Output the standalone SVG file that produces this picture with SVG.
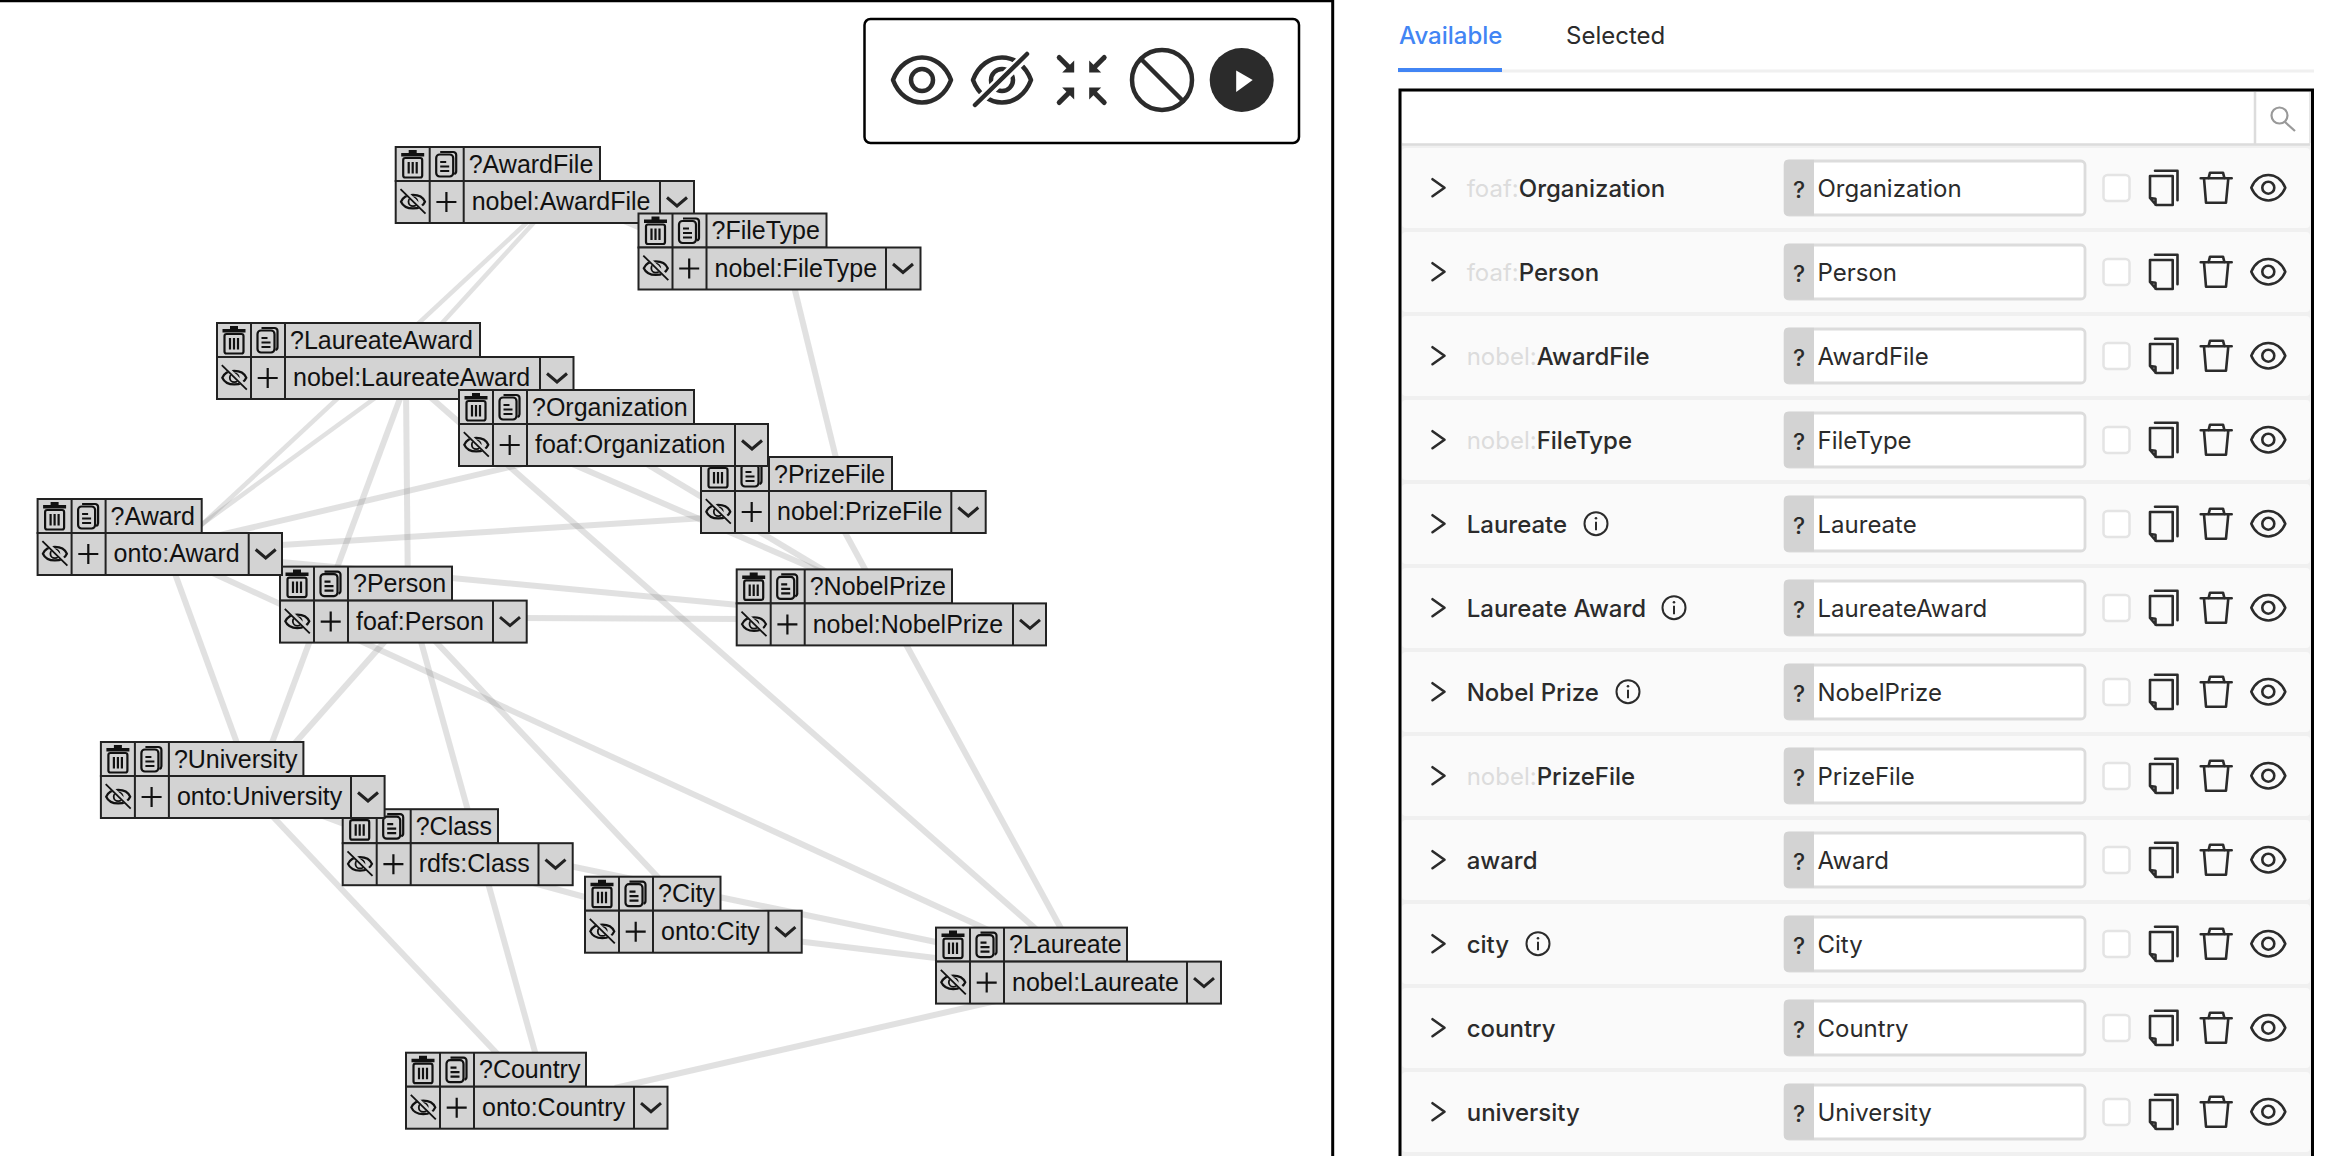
<svg xmlns="http://www.w3.org/2000/svg" width="2340" height="1156" viewBox="0 0 2340 1156">
<style>
text{font-family:"Liberation Sans",Arial,sans-serif}
.b{fill:#d3d3d3;stroke:#222;stroke-width:2}
.s{fill:none;stroke:#222;stroke-width:2}
.k{fill:none;stroke:#111;stroke-width:2.200}
.t{font-size:25px;fill:#111}
#edges line{stroke:#808080;stroke-opacity:.24;stroke-width:6}
#edges line.n{stroke-width:4.500}
.tb{fill:none;stroke:#2b2b2b;stroke-width:4.500;stroke-linecap:round;stroke-linejoin:round}
.ri{fill:none;stroke:#2b2b2b;stroke-width:2.600;stroke-linejoin:round;stroke-linecap:round}
.lb,.in,.q,.tab{font-family:Inter,"Noto Sans",sans-serif}
.lb{font-size:24px;font-weight:500;fill:#2b2b2b}
.lb tspan{font-weight:400;fill:#dcdcdc}
.in{font-size:24px;fill:#2b2b2b}
.q{font-size:23px;font-weight:500;fill:#2b2b2b;text-anchor:middle}
.tab{font-size:24px;fill:#2b2b2b}
</style>
<defs>
<g id="cells">
<path class="s" d="M34 0V76M68 0V76"/>
<path d="M5.500 6h23v3.500H5.500zM13 3h8v3.500h-8z" fill="#111"/>
<rect class="k" x="7.500" y="11" width="19" height="19.500" rx="2"/>
<path class="k" d="M13 15V26.500M17 15V26.500M21 15V26.500"/>
<rect class="k" x="40.500" y="7.500" width="17" height="22" rx="3.500" stroke-width="1.800"/>
<path class="k" stroke-width="1.800" d="M44.500 5H57.500a3 3 0 0 1 3 3V24a3 3 0 0 1-2 3M44.500 15h6M44.500 19.500h9M44.500 24h9"/>
<g transform="translate(17.300 54.700)">
<path class="k" stroke-width="1.800" d="M-12 0C-8-9 8-9 12 0C8 9-8 9-12 0z"/>
<circle r="4.500" fill="none" stroke="#111" stroke-width="1.800"/>
<path d="M-12.500-12.500L12.500 12" stroke="#d3d3d3" stroke-width="4" transform="translate(1 -1)"/>
<path d="M-12.500-12.500L12.500 12" stroke="#111" stroke-width="1.800"/>
</g>
<path class="k" stroke-width="2.200" d="M50.700 45V65M40.700 55H60.700"/>
</g>
<path id="chev" d="M7 50.500l10 8.500l10-8.500" fill="none" stroke="#222" stroke-width="3"/>
<g id="arrow">
<path d="M-22.500-22.500L-11-11" fill="none" stroke="#2b2b2b" stroke-width="5" stroke-linecap="round"/>
<path d="M-7.500-7.500V-19.500L-19.500-7.500z" fill="#2b2b2b"/>
</g>
<g id="rowbase">
<rect x="1402" y="-39.700" width="908" height="80" rx="4" fill="#fafafa"/>
<path class="ri" d="M1432.500-8.500L1444.500 0L1432.500 8.500" stroke-width="2.200" stroke-linejoin="miter"/>
<rect x="1785" y="-26.700" width="300" height="54" rx="4" fill="#fff" stroke="#dcdcdc" stroke-width="2.800"/>
<path d="M1788-28H1814V28H1788a4 4 0 0 1-4-4V-24a4 4 0 0 1 4-4z" fill="#d3d3d3"/>
<text class="q" x="1799" y="10">?</text>
<rect x="2103.500" y="-12.700" width="26" height="26" rx="4" fill="#fff" stroke="#e4e4e4" stroke-width="2.500"/>
<path class="ri" d="M2155-17H2177.500V12.500"/>
<path class="ri" d="M2150-11.700H2172.700V17.300H2156L2150 10.300zM2150 10.300L2155.500 11V17"/>
<path class="ri" d="M2200.700-9.400H2231.700M2208.500-9.400L2210-15H2223L2224.500-9.400M2204-9.400L2206 15H2226L2228.300-9.400"/>
<g transform="translate(2268.300 0)">
<path class="ri" d="M-17 0C-10-17 10-17 17 0C10 17-10 17-17 0z"/>
<circle r="6" class="ri"/>
</g>
</g>
<g id="info">
<circle r="11.500" fill="none" stroke="#2b2b2b" stroke-width="2"/>
<path d="M0-2V6.500" stroke="#2b2b2b" stroke-width="2"/>
<circle cy="-5.500" r="1.300" fill="#2b2b2b"/>
</g>
</defs>
<rect width="2340" height="1156" fill="#fff"/>
<path d="M0 1H1333" stroke="#000" stroke-width="2.500" fill="none"/>
<path d="M1332.700 0V1156" stroke="#000" stroke-width="3" fill="none"/>
<g id="edges">
<line class="n" x1="535" y1="215" x2="195" y2="531"/>
<line class="n" x1="397" y1="382" x2="190" y2="533"/>
<line class="n" x1="550" y1="205" x2="400" y2="369"/>
<line x1="405" y1="385" x2="260" y2="775"/>
<line x1="406" y1="390" x2="408" y2="600"/>
<line x1="420" y1="388" x2="1045" y2="937"/>
<line x1="180" y1="558" x2="1010" y2="940"/>
<line x1="790" y1="270" x2="845" y2="495"/>
<line x1="830" y1="505" x2="1070" y2="945"/>
<line x1="540" y1="460" x2="220" y2="535"/>
<line x1="540" y1="450" x2="840" y2="580"/>
<line x1="640" y1="460" x2="840" y2="580"/>
<line x1="250" y1="547" x2="720" y2="517"/>
<line x1="260" y1="560" x2="760" y2="607"/>
<line x1="520" y1="618" x2="745" y2="619"/>
<line x1="170" y1="560" x2="245" y2="765"/>
<line x1="395" y1="630" x2="280" y2="760"/>
<line x1="415" y1="620" x2="540" y2="1070"/>
<line x1="420" y1="625" x2="670" y2="890"/>
<line x1="260" y1="803" x2="505" y2="1062"/>
<line x1="560" y1="864" x2="960" y2="947"/>
<line x1="500" y1="874" x2="640" y2="912"/>
<line x1="780" y1="939" x2="960" y2="961"/>
<line x1="1000" y1="1000" x2="615" y2="1088"/>
<line x1="610" y1="215" x2="650" y2="232"/>
<line x1="320" y1="815" x2="360" y2="830"/>
</g>
<g id="node-AwardFile" transform="translate(395.700 147)"><rect class="b" width="204.300" height="34"/><rect class="b" y="34" width="298.300" height="42"/><use href="#cells"/><path class="s" d="M264.300 34V76"/><use href="#chev" x="264.300"/><text class="t" x="73" y="25.700">?AwardFile</text><text class="t" x="76" y="63.300">nobel:AwardFile</text></g>
<g id="node-FileType" transform="translate(638.500 213.500)"><rect class="b" width="188" height="34"/><rect class="b" y="34" width="282" height="42"/><use href="#cells"/><path class="s" d="M247.500 34V76"/><use href="#chev" x="247.500"/><text class="t" x="73" y="25.700">?FileType</text><text class="t" x="76" y="63.300">nobel:FileType</text></g>
<g id="node-LaureateAward" transform="translate(217 323)"><rect class="b" width="263" height="34"/><rect class="b" y="34" width="356.500" height="42"/><use href="#cells"/><path class="s" d="M323 34V76"/><use href="#chev" x="323"/><text class="t" x="73" y="25.700">?LaureateAward</text><text class="t" x="76" y="63.300">nobel:LaureateAward</text></g>
<g id="node-PrizeFile" transform="translate(701 457)"><rect class="b" width="191" height="34"/><rect class="b" y="34" width="284.700" height="42"/><use href="#cells"/><path class="s" d="M250.300 34V76"/><use href="#chev" x="250.300"/><text class="t" x="73" y="25.700">?PrizeFile</text><text class="t" x="76" y="63.300">nobel:PrizeFile</text></g>
<g id="node-Organization" transform="translate(459 390)"><rect class="b" width="235" height="34"/><rect class="b" y="34" width="309" height="42"/><use href="#cells"/><path class="s" d="M276 34V76"/><use href="#chev" x="276"/><text class="t" x="73" y="25.700">?Organization</text><text class="t" x="76" y="63.300">foaf:Organization</text></g>
<g id="node-Person" transform="translate(280 566.600)"><rect class="b" width="172" height="34"/><rect class="b" y="34" width="246.700" height="42"/><use href="#cells"/><path class="s" d="M213 34V76"/><use href="#chev" x="213"/><text class="t" x="73" y="25.700">?Person</text><text class="t" x="76" y="63.300">foaf:Person</text></g>
<g id="node-Award" transform="translate(37.600 499)"><rect class="b" width="164.100" height="34"/><rect class="b" y="34" width="244.400" height="42"/><use href="#cells"/><path class="s" d="M211.100 34V76"/><use href="#chev" x="211.100"/><text class="t" x="73" y="25.700">?Award</text><text class="t" x="76" y="63.300">onto:Award</text></g>
<g id="node-NobelPrize" transform="translate(736.700 569.400)"><rect class="b" width="215.300" height="34"/><rect class="b" y="34" width="309.300" height="42"/><use href="#cells"/><path class="s" d="M276.300 34V76"/><use href="#chev" x="276.300"/><text class="t" x="73" y="25.700">?NobelPrize</text><text class="t" x="76" y="63.300">nobel:NobelPrize</text></g>
<g id="node-Class" transform="translate(342.700 809.200)"><rect class="b" width="155.300" height="34"/><rect class="b" y="34" width="230" height="42"/><use href="#cells"/><path class="s" d="M195.800 34V76"/><use href="#chev" x="195.800"/><text class="t" x="73" y="25.700">?Class</text><text class="t" x="76" y="63.300">rdfs:Class</text></g>
<g id="node-University" transform="translate(100.900 742)"><rect class="b" width="202.500" height="34"/><rect class="b" y="34" width="283.700" height="42"/><use href="#cells"/><path class="s" d="M250.100 34V76"/><use href="#chev" x="250.100"/><text class="t" x="73" y="25.700">?University</text><text class="t" x="76" y="63.300">onto:University</text></g>
<g id="node-City" transform="translate(585 876.700)"><rect class="b" width="135.500" height="34"/><rect class="b" y="34" width="216.700" height="42"/><use href="#cells"/><path class="s" d="M183.400 34V76"/><use href="#chev" x="183.400"/><text class="t" x="73" y="25.700">?City</text><text class="t" x="76" y="63.300">onto:City</text></g>
<g id="node-Laureate" transform="translate(936 927.600)"><rect class="b" width="191" height="34"/><rect class="b" y="34" width="285" height="42"/><use href="#cells"/><path class="s" d="M251 34V76"/><use href="#chev" x="251"/><text class="t" x="73" y="25.700">?Laureate</text><text class="t" x="76" y="63.300">nobel:Laureate</text></g>
<g id="node-Country" transform="translate(406 1052.700)"><rect class="b" width="180" height="34"/><rect class="b" y="34" width="261.500" height="42"/><use href="#cells"/><path class="s" d="M228 34V76"/><use href="#chev" x="228"/><text class="t" x="73" y="25.700">?Country</text><text class="t" x="76" y="63.300">onto:Country</text></g>
<g id="toolbar">
<rect x="864.500" y="19" width="434.500" height="124" rx="6" fill="#fff" stroke="#000" stroke-width="2.500"/>
<g transform="translate(922 80)"><path class="tb" d="M-29 0C-18-30 18-30 29 0C18 30-18 30-29 0z"/><circle r="11" class="tb"/></g>
<g transform="translate(1002 80)"><path class="tb" d="M-29 0C-18-30 18-30 29 0C18 30-18 30-29 0z"/><circle r="11" class="tb"/><path d="M-25 23L24-24" stroke="#fff" stroke-width="10" fill="none"/><path class="tb" d="M-27 25L25-26"/></g>
<g transform="translate(1081.700 80)"><use href="#arrow"/><use href="#arrow" transform="rotate(90)"/><use href="#arrow" transform="rotate(180)"/><use href="#arrow" transform="rotate(270)"/></g>
<g transform="translate(1162 80)"><circle r="30" class="tb"/><path class="tb" d="M-21-21L21 21"/></g>
<g transform="translate(1241.700 80)"><circle r="32" fill="#2b2b2b"/><path d="M-5.500-9.500L11 0L-5.500 12z" fill="#fff"/></g>
</g>
<g id="tabs">
<text class="tab" x="1399" y="44" style="fill:#4285f4;font-weight:500">Available</text>
<text class="tab" x="1566" y="44">Selected</text>
<path d="M1398 71H2314" stroke="#f0f0f0" stroke-width="3" fill="none"/>
<rect x="1398" y="68" width="104" height="4" fill="#4285f4"/>
</g>
<g id="panel">
<rect x="1400" y="90" width="912.500" height="1070" fill="#f0f0f0" stroke="#000" stroke-width="3"/>
<rect x="1402" y="92" width="908" height="52" rx="3" fill="#fff"/>
<path d="M1402 144.500H2310M2255 92V144" stroke="#dcdcdc" stroke-width="2.500" fill="none"/>
<path d="M2310 92V143" stroke="#e6e6e6" stroke-width="2" fill="none"/>
<g fill="none" stroke="#999" stroke-width="2.200"><circle cx="2279.500" cy="115.500" r="8"/><path d="M2285 122L2295 131"/></g>
</g>
<g id="row-Organization" transform="translate(0 187.700)"><use href="#rowbase"/><text class="lb" x="1466.700" y="9"><tspan>foaf:</tspan>Organization</text><text class="in" x="1817.500" y="9">Organization</text></g>
<g id="row-Person" transform="translate(0 271.700)"><use href="#rowbase"/><text class="lb" x="1466.700" y="9"><tspan>foaf:</tspan>Person</text><text class="in" x="1817.500" y="9">Person</text></g>
<g id="row-AwardFile" transform="translate(0 355.700)"><use href="#rowbase"/><text class="lb" x="1466.700" y="9"><tspan>nobel:</tspan>AwardFile</text><text class="in" x="1817.500" y="9">AwardFile</text></g>
<g id="row-FileType" transform="translate(0 439.700)"><use href="#rowbase"/><text class="lb" x="1466.700" y="9"><tspan>nobel:</tspan>FileType</text><text class="in" x="1817.500" y="9">FileType</text></g>
<g id="row-Laureate" transform="translate(0 523.700)"><use href="#rowbase"/><text class="lb" x="1466.700" y="9">Laureate</text><use href="#info" x="1596"/><text class="in" x="1817.500" y="9">Laureate</text></g>
<g id="row-LaureateAward" transform="translate(0 607.700)"><use href="#rowbase"/><text class="lb" x="1466.700" y="9">Laureate Award</text><use href="#info" x="1674"/><text class="in" x="1817.500" y="9">LaureateAward</text></g>
<g id="row-NobelPrize" transform="translate(0 691.700)"><use href="#rowbase"/><text class="lb" x="1466.700" y="9">Nobel Prize</text><use href="#info" x="1628"/><text class="in" x="1817.500" y="9">NobelPrize</text></g>
<g id="row-PrizeFile" transform="translate(0 775.700)"><use href="#rowbase"/><text class="lb" x="1466.700" y="9"><tspan>nobel:</tspan>PrizeFile</text><text class="in" x="1817.500" y="9">PrizeFile</text></g>
<g id="row-award" transform="translate(0 859.700)"><use href="#rowbase"/><text class="lb" x="1466.700" y="9">award</text><text class="in" x="1817.500" y="9">Award</text></g>
<g id="row-city" transform="translate(0 943.700)"><use href="#rowbase"/><text class="lb" x="1466.700" y="9">city</text><use href="#info" x="1538"/><text class="in" x="1817.500" y="9">City</text></g>
<g id="row-country" transform="translate(0 1027.700)"><use href="#rowbase"/><text class="lb" x="1466.700" y="9">country</text><text class="in" x="1817.500" y="9">Country</text></g>
<g id="row-university" transform="translate(0 1111.700)"><use href="#rowbase"/><text class="lb" x="1466.700" y="9">university</text><text class="in" x="1817.500" y="9">University</text></g>
</svg>
